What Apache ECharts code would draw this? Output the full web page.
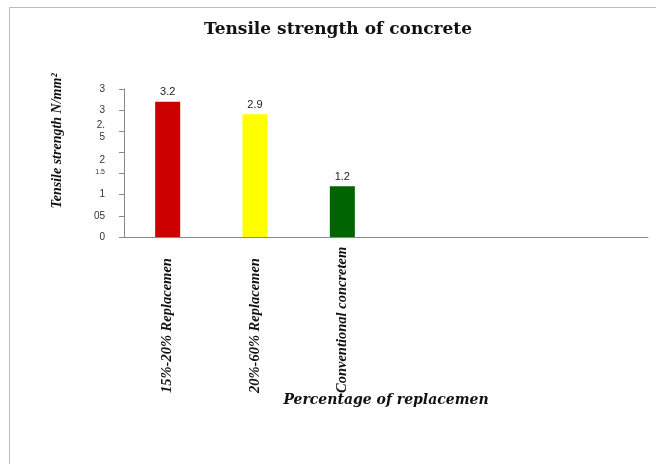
<!DOCTYPE html>
<html>
<head>
<meta charset="utf-8">
<script src="https://cdn.jsdelivr.net/npm/echarts@6/dist/echarts.min.js"></script>
<style>
  html, body { margin: 0; padding: 0; background: #fff; }
  #chart { width: 656px; height: 464px; }
</style>
</head>
<body>
<div id="chart"></div>
<script>
// Category slots on the x axis (the last three are left empty)
const categories = ['15%-20% Replacemen', '20%-60% Replacemen', 'Conventional concretem', '', '', ''];
// Tensile strength values (N/mm²)
const strengths = [3.2, 2.9, 1.2, null, null, null];
// Bar fill per category
const barColors = ['#cc0000', '#ffff00', '#006400', '#999', '#999', '#999'];
// Y tick labels, one per 0.5 step from 0 up to 3.5
const yTickLabels = ['0', '05', '1', '{s|1.5}', '{d|2}', '2.\n5', '3', '3'];

const serif = '"Liberation Serif", "Times New Roman", serif';
const wideSerif = '"DejaVu Serif", "Liberation Serif", serif';
const sans = '"Liberation Sans", Arial, sans-serif';

const chart = echarts.init(document.getElementById('chart'));

chart.setOption({
  animation: false,
  backgroundColor: '#fff',
  title: {
    text: 'Tensile strength of concrete',
    left: 333,
    top: 16,
    textAlign: 'center',
    textStyle: { fontFamily: wideSerif, fontWeight: 'bold', fontSize: 17, color: '#111' }
  },
  grid: { left: 124, right: 8, top: 89, bottom: 227, containLabel: false },
  graphic: [
    {
      type: 'rect',
      shape: { x: 9.5, y: 7.5, width: 700, height: 500 },
      style: { fill: 'none', stroke: '#bbb', lineWidth: 1 },
      silent: true
    },
    {
      type: 'text',
      x: 57,
      y: 141,
      rotation: Math.PI / 2,
      style: {
        text: 'Tensile strength N/mm²',
        font: 'italic bold 14px ' + serif,
        fill: '#111',
        textAlign: 'center',
        textVerticalAlign: 'middle'
      }
    }
  ],
  xAxis: {
    type: 'category',
    data: categories,
    name: 'Percentage of replacemen',
    nameLocation: 'middle',
    nameGap: 156,
    nameMoveOverlap: false,
    nameTextStyle: { fontFamily: wideSerif, fontStyle: 'italic', fontWeight: 'bold', fontSize: 14, color: '#111' },
    axisLine: { lineStyle: { color: '#888', width: 1 } },
    axisTick: { show: false },
    axisLabel: {
      interval: 0,
      rotate: 90,
      align: 'left',
      margin: 156,
      fontFamily: serif,
      fontStyle: 'italic',
      fontWeight: 'bold',
      fontSize: 14.5,
      color: '#111'
    },
    splitLine: { show: false }
  },
  yAxis: {
    type: 'value',
    min: 0,
    max: 3.5,
    interval: 0.5,
    axisLine: { show: true, lineStyle: { color: '#888', width: 1 } },
    axisTick: { show: true, length: 5, lineStyle: { color: '#888' } },
    splitLine: { show: false },
    axisLabel: {
      margin: 19,
      fontFamily: sans,
      fontSize: 10,
      color: '#333',
      lineHeight: 12,
      formatter: function (v) {
        return yTickLabels[Math.round(v / 0.5)];
      },
      rich: {
        s: { fontSize: 7, fontFamily: sans, color: '#333', padding: [0, 0, 4, 0] },
        d: { fontSize: 10, fontFamily: sans, color: '#333', padding: [16, 0, 0, 0] }
      }
    }
  },
  series: [{
    type: 'bar',
    barWidth: 25,
    data: strengths.map(function (v, i) {
      return { value: v, itemStyle: { color: barColors[i] } };
    }),
    label: {
      show: true,
      position: 'top',
      distance: 4,
      fontFamily: sans,
      fontSize: 11,
      color: '#222',
      formatter: function (p) { return p.value == null ? '' : String(p.value); }
    }
  }]
});
</script>
</body>
</html>
